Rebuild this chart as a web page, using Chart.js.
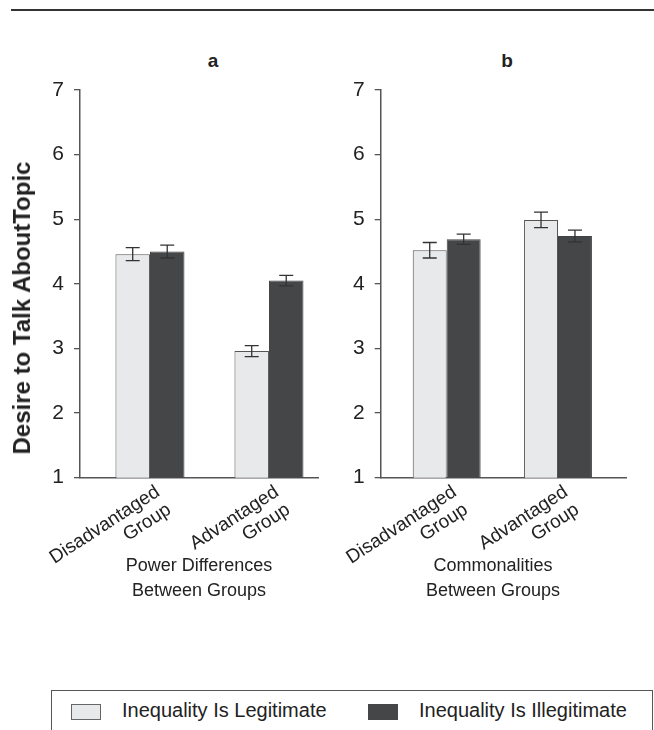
<!DOCTYPE html>
<html>
<head>
<meta charset="utf-8">
<script src="https://cdn.jsdelivr.net/npm/chart.js@4.4.1/dist/chart.umd.min.js"></script>
<style>
  body { margin: 0; background: #fff; }
  #page { position: relative; width: 654px; height: 730px; overflow: hidden; background: #fff;
          font-family: "Liberation Sans", Arial, sans-serif; color: #222; }
  #rule { position: absolute; left: 11px; top: 9px; width: 643px; height: 2px; background: #333; }
  .letter { position: absolute; top: 50px; width: 40px; text-align: center; font-weight: bold; font-size: 19px; }
  #ytitle { position: absolute; left: 22px; top: 308px; transform: translate(-50%, -50%) rotate(-90deg);
            font-weight: bold; font-size: 24px; white-space: nowrap; }
  .xtitle { position: absolute; top: 553px; width: 200px; text-align: center; font-size: 18px; line-height: 25px; }
  canvas { position: absolute; top: 0; }
  #legend { position: absolute; left: 51px; top: 690px; width: 600px; height: 60px;
            border: 1px solid #555; border-bottom: none; }
  .sw { position: absolute; top: 13px; width: 30px; height: 16px; box-sizing: border-box; }
  .lt { position: absolute; top: 8px; font-size: 20px; white-space: nowrap; }
</style>
</head>
<body>
<div id="page">
  <div id="rule"></div>
  <div class="letter" style="left:193px">a</div>
  <div class="letter" style="left:487px">b</div>
  <canvas id="chartA" width="330" height="610" style="left:0"></canvas>
  <canvas id="chartB" width="354" height="610" style="left:300px"></canvas>
  <div id="ytitle">Desire to Talk AboutTopic</div>
  <div class="xtitle" style="left:99px">Power Differences<br>Between Groups</div>
  <div class="xtitle" style="left:393px">Commonalities<br>Between Groups</div>
  <div id="legend">
    <div class="sw" style="left:19px; background:#e8e9eb; border:1px solid #666"></div>
    <div class="lt" style="left:70px">Inequality Is Legitimate</div>
    <div class="sw" style="left:316px; background:#454648"></div>
    <div class="lt" style="left:367px">Inequality Is Illegitimate</div>
  </div>
</div>
<script>
// data
var groupPos = [1, 2];
var groupLabels = [["Disadvantaged", "Group"], ["Advantaged", "Group"]];
var yTicks = [1, 2, 3, 4, 5, 6, 7];

// panel a: power differences
var powerLegit = [4.46, 2.96];
var powerIllegit = [4.50, 4.05];
var powerLegitErr = [0.10, 0.085];
var powerIllegitErr = [0.10, 0.08];

// panel b: commonalities
var commonLegit = [4.52, 4.99];
var commonIllegit = [4.69, 4.74];
var commonLegitErr = [0.12, 0.12];
var commonIllegitErr = [0.08, 0.09];

var FONT = "'Liberation Sans', Arial, sans-serif";
Chart.defaults.font.family = FONT;
Chart.defaults.color = "#222";

var errorBars = {
	id: "errorBars",
	afterDatasetsDraw: function (chart) {
		var ctx = chart.ctx;
		var yScale = chart.scales.y;
		ctx.save();
		ctx.strokeStyle = "#333";
		ctx.lineWidth = 1.3;
		chart.data.datasets.forEach(function (ds, d) {
			var meta = chart.getDatasetMeta(d);
			meta.data.forEach(function (bar, i) {
				var v = ds.data[i].y;
				var e = ds.errors[i];
				var top = yScale.getPixelForValue(v + e);
				var bot = yScale.getPixelForValue(v - e);
				ctx.beginPath();
				ctx.moveTo(bar.x, top);
				ctx.lineTo(bar.x, bot);
				ctx.moveTo(bar.x - 7, top);
				ctx.lineTo(bar.x + 7, top);
				ctx.moveTo(bar.x - 7, bot);
				ctx.lineTo(bar.x + 7, bot);
				ctx.stroke();
			});
		});
		ctx.restore();
	},
};

function points(values) {
	return values.map(function (v, i) {
		return { x: groupPos[i], y: v };
	});
}

function makePanel(id, legit, illegit, legitErr, illegitErr, opts) {
	return new Chart(document.getElementById(id), {
		type: "bar",
		data: {
			datasets: [
				{
					label: "Inequality Is Legitimate",
					data: points(legit),
					errors: legitErr,
					backgroundColor: "#e8e9eb",
					borderColor: "#555",
					borderWidth: 1,
				},
				{
					label: "Inequality Is Illegitimate",
					data: points(illegit),
					errors: illegitErr,
					backgroundColor: "#454648",
					borderColor: "#404143",
					borderWidth: 1,
				},
			],
		},
		options: {
			responsive: false,
			animation: false,
			categoryPercentage: opts.catPct,
			barPercentage: 1,
			layout: { padding: { top: 90, right: opts.padRight, left: 0, bottom: 6 } },
			plugins: { legend: { display: false }, tooltip: { enabled: false } },
			scales: {
				x: {
					type: "linear",
					offset: false,
					min: opts.xMin,
					max: opts.xMax,
					afterBuildTicks: function (scale) {
						scale.ticks = groupPos.map(function (v) {
							return { value: v };
						});
					},
					afterFit: function (scale) {
						scale.height = 610 - 6 - 477.7;
					},
					grid: { display: false, drawTicks: false },
					border: { display: true, color: "#555", width: 1.5 },
					ticks: {
						autoSkip: false,
						minRotation: 33,
						maxRotation: 33,
						padding: 4,
						labelOffset: 8,
						color: "#222",
						font: { size: 19, lineHeight: 1.1 },
						callback: function (v) {
							return groupLabels[groupPos.indexOf(v)];
						},
					},
				},
				y: {
					min: 1,
					max: 7,
					afterBuildTicks: function (scale) {
						scale.ticks = yTicks.map(function (v) {
							return { value: v };
						});
					},
					afterFit: function (scale) {
						scale.width = opts.yWidth;
					},
					grid: { drawOnChartArea: false, drawTicks: true, tickLength: 6, color: "#555", lineWidth: 1.3 },
					border: { display: true, color: "#555", width: 1.5 },
					ticks: { padding: 10, color: "#222", font: { size: 21 } },
				},
			},
		},
		plugins: [errorBars],
	});
}

makePanel("chartA", powerLegit, powerIllegit, powerLegitErr, powerIllegitErr, {
	xMin: 0.412,
	xMax: 2.412,
	catPct: 0.58,
	padRight: 12,
	yWidth: 80,
});

makePanel("chartB", commonLegit, commonIllegit, commonLegitErr, commonIllegitErr, {
	xMin: 0.407,
	xMax: 2.611,
	catPct: 0.61,
	padRight: 28,
	yWidth: 80.7,
});
</script>
</body>
</html>
